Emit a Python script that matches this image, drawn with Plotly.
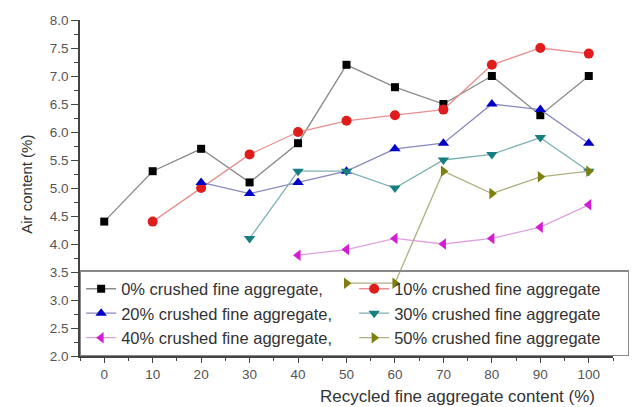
import plotly.graph_objects as go

x_all = [0, 10, 20, 30, 40, 50, 60, 70, 80, 90, 100]

names = [
    "0% crushed fine aggregate,",
    "10% crushed fine aggregate",
    "20% crushed fine aggregate,",
    "30% crushed fine aggregate",
    "40% crushed fine aggregate,",
    "50% crushed fine aggregate",
]

s0 = [4.4, 5.3, 5.7, 5.1, 5.8, 7.2, 6.8, 6.5, 7.0, 6.3, 7.0]
s10 = [4.4, 5.0, 5.6, 6.0, 6.2, 6.3, 6.4, 7.2, 7.5, 7.4]
s20 = [5.1, 4.9, 5.1, 5.3, 5.7, 5.8, 6.5, 6.4, 5.8]
s30 = [4.1, 5.3, 5.3, 5.0, 5.5, 5.6, 5.9, 5.3]
s40 = [3.8, 3.9, 4.1, 4.0, 4.1, 4.3, 4.7]
s50 = [3.3, 3.3, 5.3, 4.9, 5.2, 5.3]

series = [s0, s10, s20, s30, s40, s50]
symbols = ["square", "circle", "triangle-up", "triangle-down", "triangle-left", "triangle-right"]
mcolors = ["#000000", "#e01c1c", "#0000c8", "#177f80", "#d21ed2", "#7f7f10"]
lcolors = ["#8a8a8a", "#e89090", "#8888c0", "#7fb0b0", "#e0a0e0", "#b0b080"]
msizes = [8, 10, 10, 10, 10, 10]

fig = go.Figure()
for name, ys, sym, mc, lc, ms in zip(names, series, symbols, mcolors, lcolors, msizes):
    xs = x_all[len(x_all) - len(ys):]
    fig.add_trace(go.Scatter(
        x=xs, y=ys, name=name, mode="lines+markers",
        line=dict(color=lc, width=1.3),
        marker=dict(symbol=sym, color=mc, size=ms),
    ))

axis_common = dict(
    showgrid=False, zeroline=False, showline=True, linecolor="#444", linewidth=1.5,
    ticks="outside", tickwidth=1.3, tickcolor="#444",
    tickfont=dict(family="Liberation Sans, Arial", size=13.5, color="#555"),
    mirror=False,
)

fig.update_xaxes(
    range=[-5, 105], tickvals=x_all, ticklen=5,
    minor=dict(ticks="outside", ticklen=3, tickwidth=1, tickcolor="#444", dtick=5, tick0=0),
    **axis_common,
)
fig.update_yaxes(
    range=[2, 8], dtick=0.5, tick0=2, tickformat=".1f", ticklen=7,
    minor=dict(ticks="outside", ticklen=4, tickwidth=1, tickcolor="#444", dtick=0.25, tick0=2),
    **axis_common,
)

fig.add_annotation(
    text="Recycled fine aggregate content (%)", xref="paper", yref="paper",
    x=0.709, y=-0.121, xanchor="center", yanchor="middle", showarrow=False,
    font=dict(family="Liberation Sans, Arial", size=17, color="#333"),
)
fig.add_annotation(
    text="Air content (%)", xref="paper", yref="paper",
    x=-0.101, y=0.51, xanchor="center", yanchor="middle", showarrow=False, textangle=-90,
    font=dict(family="Liberation Sans, Arial", size=15, color="#333"),
)

fig.update_layout(
    width=644, height=407,
    margin=dict(l=80, r=31, t=20, b=51, autoexpand=False),
    paper_bgcolor="white", plot_bgcolor="white",
    showlegend=True,
    legend=dict(
        orientation="h", x=-0.0001, y=-0.001, xanchor="left", yanchor="bottom",
        entrywidth=228, entrywidthmode="pixels",
        bordercolor="#888", borderwidth=1.2, bgcolor="rgba(255,255,255,0)",
        font=dict(family="Liberation Sans, Arial", size=16.5, color="#333"),
        tracegroupgap=0, itemwidth=30,
    ),
)

fig.write_html("out.html")
